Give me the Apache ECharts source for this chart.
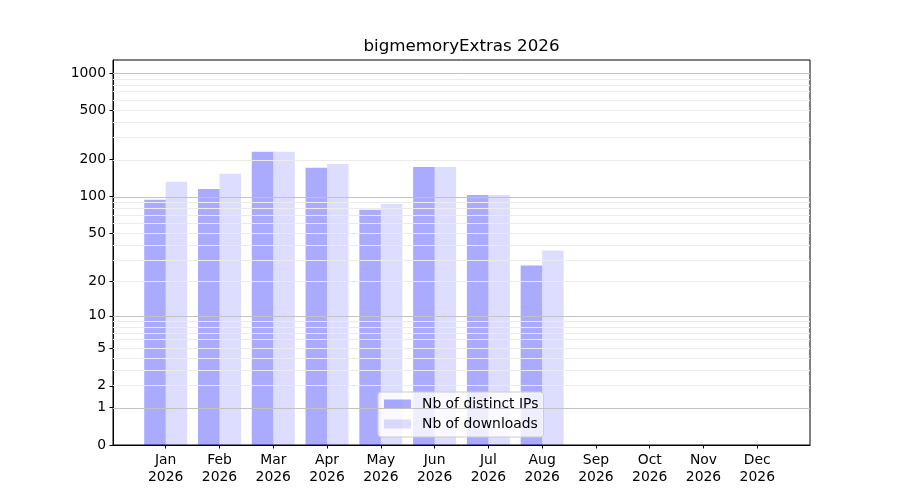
<!DOCTYPE html>
<html lang="en">
<head>
  <meta charset="UTF-8">
  <title>bigmemoryExtras 2026</title>
  <script src="https://cdn.jsdelivr.net/npm/echarts@6.0.0/dist/echarts.min.js"></script>
  <style>
    * { margin: 0; padding: 0; box-sizing: border-box; }
    body { background: #fff; }
    #chart { width: 900px; height: 500px; }
  </style>
</head>
<body>
  <div id="chart"></div>

  <script>
    // data
    var months = ['Jan', 'Feb', 'Mar', 'Apr', 'May', 'Jun', 'Jul', 'Aug', 'Sep', 'Oct', 'Nov', 'Dec'];
    var year = '2026';
    var distinctIPs = [94, 115, 231, 171, 78, 174, 103, 27];
    var downloads = [132, 153, 231, 184, 87, 174, 103, 36];

    // y axis ticks (symlog-like scale, log10(1 + v))
    var yTicks = [0, 1, 2, 5, 10, 20, 50, 100, 200, 500, 1000];
    var majorGrid = [1, 10, 100, 1000];
    var minorGrid = [2, 3, 4, 5, 6, 7, 8, 9, 20, 30, 40, 50, 60, 70, 80, 90,
                     200, 300, 400, 500, 600, 700, 800, 900];
    var yTop = 1273;

    var tf = function (v) { return Math.log10(1 + v); };
    var font = 'DejaVu Sans';

    var chart = echarts.init(document.getElementById('chart'));

    var gridLines = majorGrid.map(function (v) {
      return { yAxis: tf(v), lineStyle: { color: '#c2c2c2', width: 1, type: 'solid' } };
    }).concat(minorGrid.map(function (v) {
      return { yAxis: tf(v), lineStyle: { color: '#ebebeb', width: 1, type: 'solid' } };
    }));

    var option = {
      animation: false,
      textStyle: { fontFamily: font },
      title: {
        text: 'bigmemoryExtras ' + year,
        left: 461.5,
        textAlign: 'center',
        top: 37,
        padding: 0,
        textStyle: { fontFamily: font, fontSize: 16.7, fontWeight: 'normal', color: '#000', lineHeight: 20 }
      },
      legend: {
        orient: 'vertical',
        left: 378,
        top: 392,
        padding: [5, 5, 6, 6],
        itemWidth: 27,
        itemHeight: 9,
        itemGap: 6,
        icon: 'rect',
        backgroundColor: 'rgba(255,255,255,0.8)',
        borderColor: '#cccccc',
        borderWidth: 1,
        borderRadius: 3,
        textStyle: { fontFamily: font, fontSize: 13.9, color: '#000', lineHeight: 14, padding: [0, 0, 0, 6] },
        data: ['Nb of distinct IPs', 'Nb of downloads']
      },
      grid: {
        left: 113,
        right: 90,
        top: 60,
        bottom: 55,
        containLabel: false,
        outerBoundsMode: 'none',
        show: true,
        borderColor: '#000',
        borderWidth: 1
      },
      xAxis: {
        type: 'value',
        min: -0.98,
        max: 11.98,
        splitLine: { show: false },
        axisLine: { show: true, onZero: false, lineStyle: { color: '#000', width: 1 } },
        axisTick: {
          show: true, length: 3.5, lineStyle: { color: '#000' },
          customValues: months.map(function (m, i) { return i; })
        },
        axisLabel: {
          fontFamily: font, fontSize: 13.9, color: '#000', margin: 7, lineHeight: 17,
          customValues: months.map(function (m, i) { return i; }),
          formatter: function (v) {
            var i = Math.round(v);
            return months[i] + '\n' + year;
          }
        }
      },
      yAxis: {
        type: 'value',
        min: 0,
        max: tf(yTop),
        splitLine: { show: false },
        axisLine: { show: true, onZero: false, lineStyle: { color: '#000', width: 1 } },
        axisTick: {
          show: true, length: 3.5, lineStyle: { color: '#000' },
          customValues: yTicks.map(tf)
        },
        axisLabel: {
          fontFamily: font, fontSize: 13.9, color: '#000', margin: 7,
          customValues: yTicks.map(tf),
          formatter: function (v) { return String(Math.round(Math.pow(10, v) - 1)); }
        }
      },
      series: [
        {
          name: 'Nb of distinct IPs',
          type: 'bar',
          barWidth: 21.5,
          barGap: '0%',
          itemStyle: { color: 'rgba(0,0,255,0.333)' },
          data: distinctIPs.map(function (v, i) { return [i, tf(v)]; }),
          markLine: {
            silent: true,
            symbol: ['none', 'none'],
            label: { show: false },
            animation: false,
            data: gridLines
          }
        },
        {
          name: 'Nb of downloads',
          type: 'bar',
          barWidth: 21.5,
          barGap: '0%',
          itemStyle: { color: 'rgba(0,0,255,0.133)' },
          data: downloads.map(function (v, i) { return [i, tf(v)]; })
        }
      ]
    };

    chart.setOption(option);
  </script>
</body>
</html>
